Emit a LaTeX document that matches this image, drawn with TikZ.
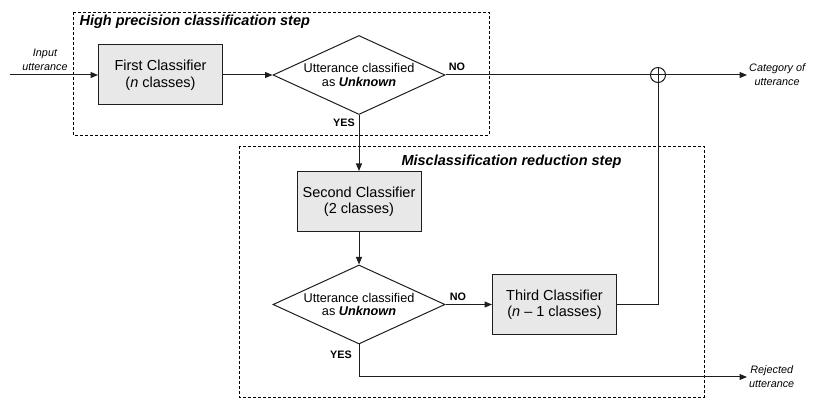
\documentclass[tikz,border=0pt]{standalone}
\usepackage{fontspec}
\setmainfont{Liberation Sans}
\usepackage{xcolor}
\usepackage{tikz}
\usetikzlibrary{arrows.meta, shapes.geometric, calc}
\definecolor{boxfill}{HTML}{E8E8E8}
\definecolor{edge}{HTML}{1E1E1E}

\tikzset{
  classifier/.style={draw=edge, fill=boxfill, line width=1pt, minimum width=124pt, minimum height=60pt,
    inner sep=0pt, align=center, font=\fontsize{14.5}{16.5}\selectfont},
  decision/.style={diamond, draw=edge, line width=1pt, aspect=2.18, minimum width=172pt, minimum height=79pt,
    inner sep=0pt, align=center, font=\fontsize{12.7}{13.5}\selectfont},
  sum/.style={circle, draw=edge, line width=1pt, minimum size=15pt, inner sep=0pt,
    path picture={\draw[line width=1pt] (path picture bounding box.north) -- (path picture bounding box.south)
      (path picture bounding box.west) -- (path picture bounding box.east);}},
  flow/.style={line width=1pt, draw=edge, -{Triangle[length=7.5pt,width=6pt]}},
  line/.style={line width=1pt, draw=edge},
  stepframe/.style={line width=0.8pt, dash pattern=on 3pt off 2pt},
  steptitle/.style={anchor=west, font=\fontsize{14.5}{16.5}\selectfont\bfseries\itshape},
  answer/.style={font=\fontsize{10.8}{12}\selectfont\bfseries},
  terminal/.style={align=center, font=\fontsize{10.8}{14}\selectfont\itshape}
}

\begin{document}
\begin{tikzpicture}[x=1pt, y=-1pt]
\useasboundingbox (0,0) rectangle (815,398);

% the two steps of the cascade
\draw[stepframe] (73,12) rectangle (489,135);
\draw[stepframe] (239,146) rectangle (704,397);
\node[steptitle] (hightitle) at (76,22) {High precision classification step};
\node[steptitle] (misstitle) at (398,162) {Misclassification reduction step};

% classifiers and decisions
\node[classifier] (first) at (160.5,75) {First Classifier\\(\textit{n} classes)};
\node[decision] (unknownA) at (359,75) {Utterance classified\\as \textbf{\textit{Unknown}}};
\node[classifier] (second) at (359,201.5) {Second Classifier\\(2 classes)};
\node[decision] (unknownB) at (359,304.5) {Utterance classified\\as \textbf{\textit{Unknown}}};
\node[classifier] (third) at (554.5,304.5) {Third Classifier\\(\textit{n} – 1 classes)};
\node[sum] (join) at (658,75) {};

% free ends of the flow
\coordinate (input) at (10,75);
\coordinate (category) at (747,75);
\coordinate (rejected) at (747,377);
\node[terminal] (inputtext) at (45,59.5) {Input\\utterance};
\node[terminal, anchor=west, inner sep=2pt] (categorytext) at (category) {Category of\\utterance};
\node[terminal, anchor=west, inner sep=2pt] (rejectedtext) at (rejected) {Rejected\\utterance};

\draw[flow] (input) -- (first);
\draw[flow] (first) -- (unknownA);
\draw[line] (unknownA.east) -- (join.west);
\draw[flow] (join.east) -- (category);
\draw[flow] (unknownA.south) -- (second.north);
\draw[flow] (second) -- (unknownB);
\draw[flow] (unknownB) -- (third);
\draw[line] (third.east) -| (join.south);
\draw[flow] (unknownB.south) |- (rejected);

% answers of the decisions
\node[answer] (noA) at (457,67) {NO};
\node[answer] (yesA) at (344,123) {YES};
\node[answer] (noB) at (458,297) {NO};
\node[answer] (yesB) at (341,355) {YES};

\end{tikzpicture}
\end{document}
